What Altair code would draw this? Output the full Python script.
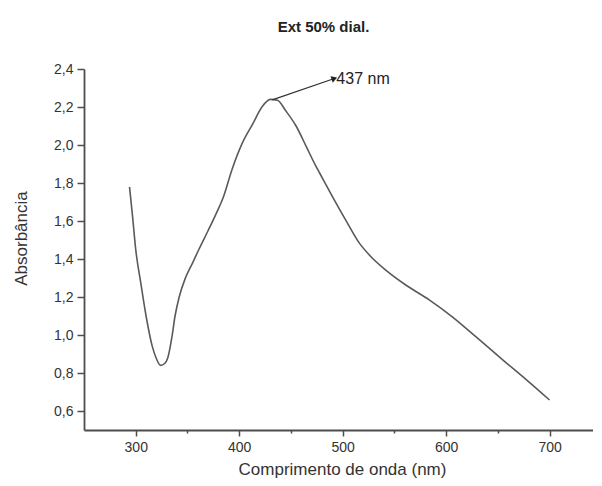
import altair as alt
import pandas as pd

# Spectrum (wavelength nm, absorbance)
wavelength = [294, 297, 300, 305, 310, 316, 320, 324, 328, 331, 335, 338, 342, 348,
              355, 361, 370, 377, 385, 393, 403, 413, 422, 430, 437, 445, 455, 465,
              474, 478, 490, 503, 516, 526, 542, 561, 584, 606, 629, 655, 678, 700]
absorbance = [1.78, 1.62, 1.45, 1.27, 1.10, 0.94, 0.875, 0.84, 0.85, 0.88, 0.99, 1.10,
              1.20, 1.30, 1.38, 1.45, 1.55, 1.63, 1.73, 1.87, 2.01, 2.11, 2.20, 2.24,
              2.235, 2.18, 2.10, 1.99, 1.89, 1.85, 1.73, 1.605, 1.485, 1.42, 1.34,
              1.263, 1.184, 1.096, 0.99, 0.868, 0.763, 0.658]

x_ticks = [300, 350, 400, 450, 500, 550, 600, 650, 700]
y_ticks = [0.6, 0.7, 0.8, 0.9, 1.0, 1.1, 1.2, 1.3, 1.4, 1.5, 1.6, 1.7, 1.8, 1.9,
           2.0, 2.1, 2.2, 2.3, 2.4]

# annotation arrow: from peak to label
arrow_x = [432, 492]
arrow_y = [2.237, 2.35]
peak_label = "437 nm"

df = pd.DataFrame({"nm": wavelength, "abs": absorbance})
arrow_df = pd.DataFrame({"nm": arrow_x, "abs": arrow_y})
tip_df = pd.DataFrame({"nm": [arrow_x[1]], "abs": [arrow_y[1]], "label": [peak_label]})

AX = "#4d4d4d"
FONT = "Liberation Sans"

x_scale = alt.Scale(domain=[250, 742], nice=False, zero=False)
y_scale = alt.Scale(domain=[0.5, 2.4], nice=False, zero=False)

x_axis = alt.Axis(
    values=x_ticks,
    title="Comprimento de onda (nm)",
    labelExpr="datum.value % 100 == 0 ? datum.label : ''",
    tickSize={"condition": {"test": "datum.value % 100 == 0", "value": 6}, "value": 3},
    tickColor=AX, tickWidth=1.5, domainColor=AX, domainWidth=1.8,
    grid=False, labelFont=FONT, labelFontSize=14, labelColor="#333333",
    labelPadding=4, titleFont=FONT, titleFontSize=17, titleFontWeight="normal",
    titleColor="#333333", titleX=258, titleY=44, titleBaseline="alphabetic",
    titleAlign="center", labelFlush=False, labelOverlap=False,
)
y_axis = alt.Axis(
    values=y_ticks,
    title="Absorbância",
    labelExpr="round(datum.value*10) % 2 == 0 ? replace(format(datum.value, '.1f'), '.', ',') : ''",
    tickSize={"condition": {"test": "round(datum.value*10) % 2 == 0", "value": 7}, "value": 4},
    tickColor=AX, tickWidth=1.5, domainColor=AX, domainWidth=1.8,
    grid=False, labelFont=FONT, labelFontSize=14, labelColor="#333333",
    labelPadding=4, titleFont=FONT, titleFontSize=17, titleFontWeight="normal",
    titleColor="#333333", titleX=-63, titleY=169, titleAngle=270,
    titleAlign="center", titleBaseline="middle", labelFlush=False, labelOverlap=False,
)

line = alt.Chart(df).mark_line(color="#5a5a5a", strokeWidth=1.6, interpolate="monotone").encode(
    x=alt.X("nm:Q", scale=x_scale, axis=x_axis),
    y=alt.Y("abs:Q", scale=y_scale, axis=y_axis),
)

arrow = alt.Chart(arrow_df).mark_line(color="#333333", strokeWidth=1.3).encode(
    x=alt.X("nm:Q", scale=x_scale), y=alt.Y("abs:Q", scale=y_scale)
)
head = alt.Chart(tip_df).mark_point(shape="triangle-right", filled=True, color="#222222",
                                    size=45, angle=340, opacity=1).encode(
    x=alt.X("nm:Q", scale=x_scale), y=alt.Y("abs:Q", scale=y_scale)
)
label = alt.Chart(tip_df).mark_text(align="left", baseline="middle", dx=2, fontSize=16,
                                    font=FONT, color="#222222").encode(
    x=alt.X("nm:Q", scale=x_scale), y=alt.Y("abs:Q", scale=y_scale), text="label:N"
)

chart = alt.layer(line, arrow, head, label).properties(
    width=509, height=361,
    background="white",
    title=alt.TitleParams("Ext 50% dial.", font=FONT, fontSize=15, fontWeight="bold",
                          color="#222222", anchor="middle", dx=-15, offset=27),
    autosize=alt.AutoSizeParams(type="none"),
    padding={"left": 76, "top": 61, "right": 0, "bottom": 48},
).configure_view(strokeWidth=0).configure_axis(grid=False)

chart.save("out.html", embed_options={"renderer": "svg", "actions": False})
